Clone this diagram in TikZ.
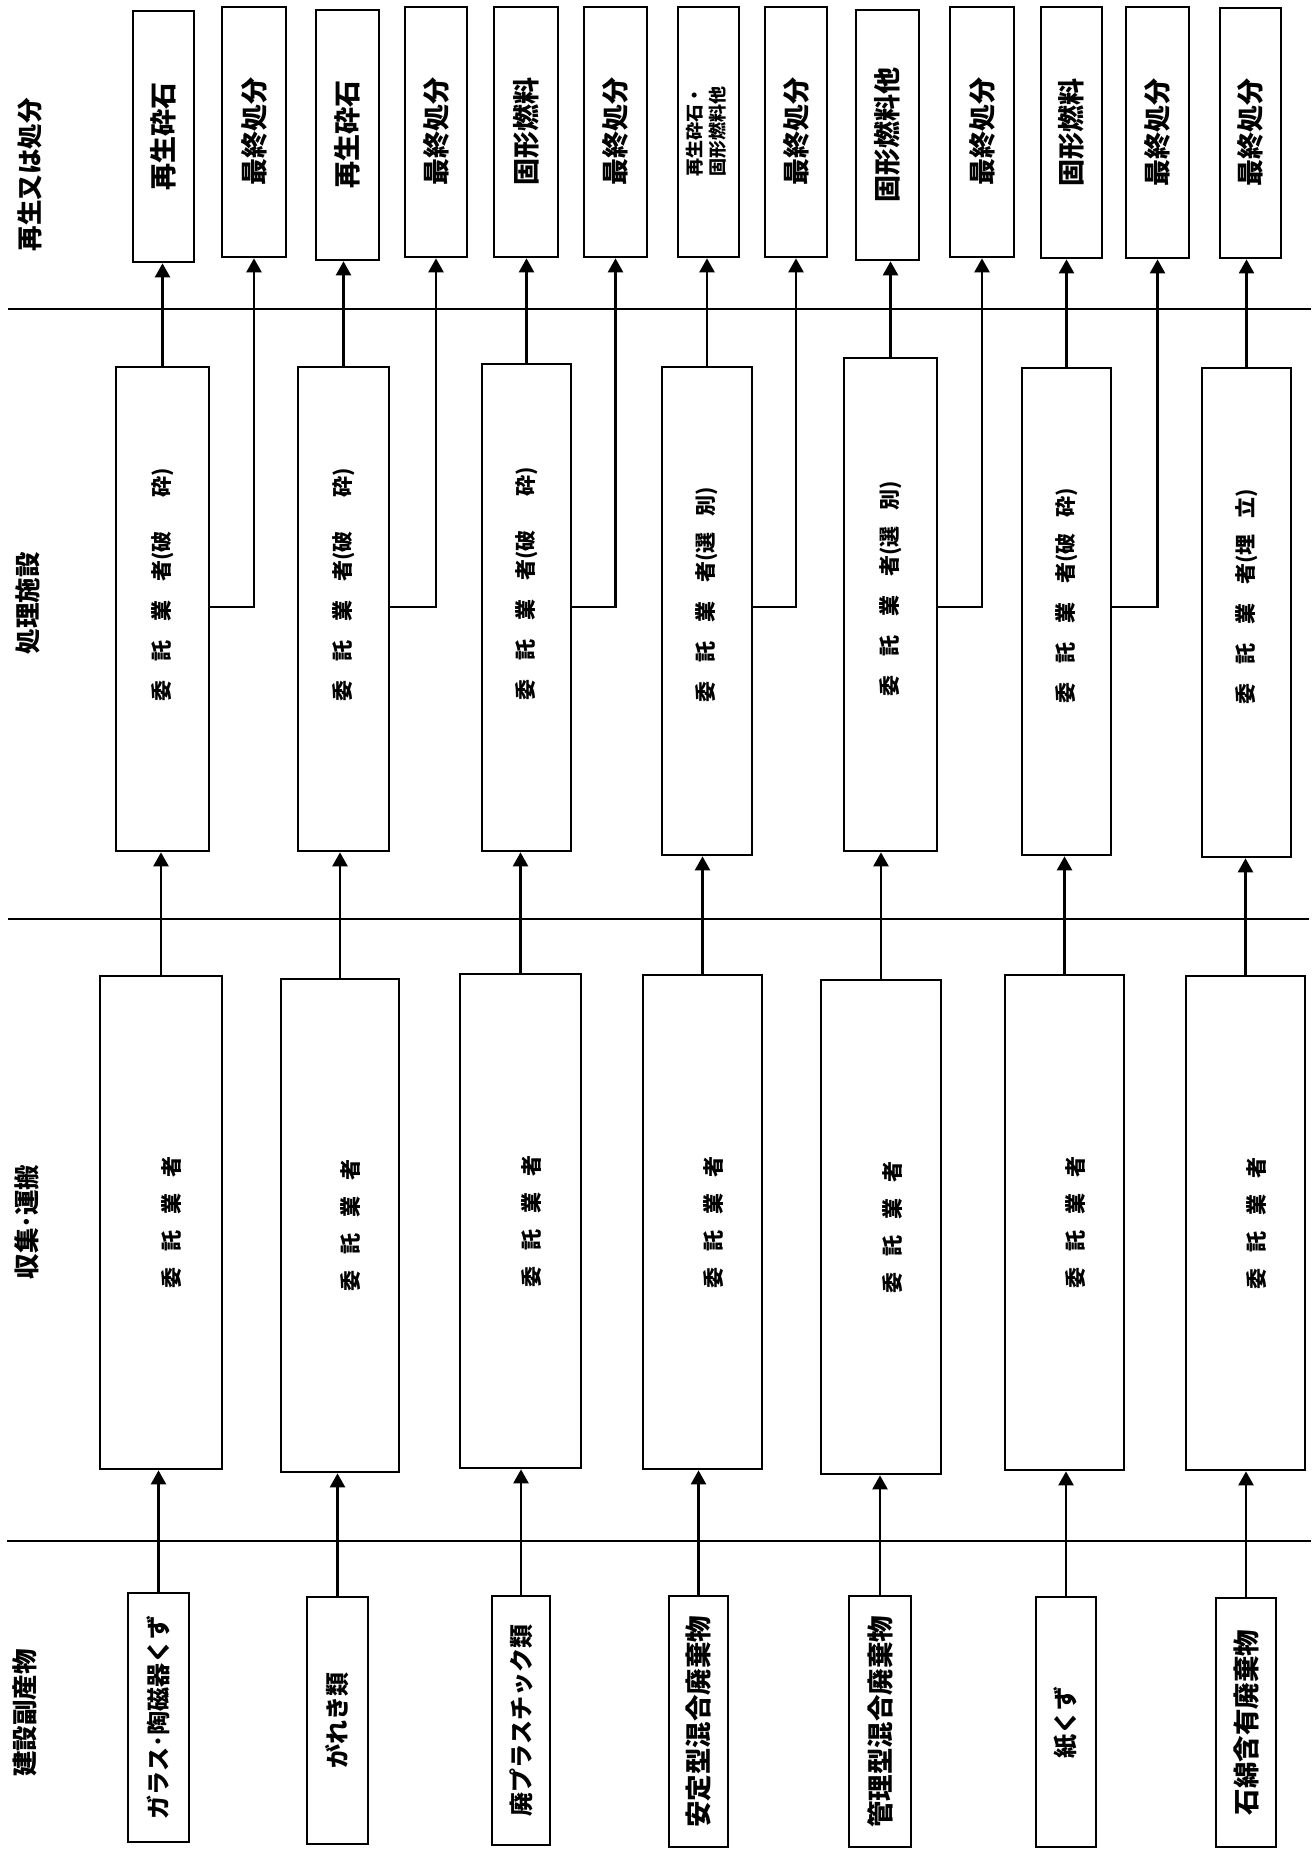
\documentclass[tikz,border=0pt]{standalone}
\usepackage{graphicx}
\usepackage{fontspec}
\setmainfont{Noto Sans CJK JP}
\usetikzlibrary{arrows.meta}
\newcommand\wbox[7]{%
  \node[bx,#1,minimum width={(#5-#3)*1pt},minimum height={(#6-#4)*1pt}] (#2) at ({(#3+#5)/2},{(#4+#6)/2}) {\rotatebox{90}{#7}};}
\newcommand\gp{\hspace{19pt}}
\newcommand\gc{\hspace{16pt}}
\newcommand\procA[1]{\hspace*{48pt}委\gp 託\gp 業\gp 者(#1)}
\newcommand\procB[1]{\hspace*{32pt}委\gp 託\gp 業\gp 者(#1)}
\newcommand\colltxt{\rule{0pt}{40pt}委\gc 託\gc 業\gc 者}
\begin{document}
\begin{tikzpicture}[x=1pt,y=-1pt,
  bx/.style={draw,line width=2.7pt,inner sep=0pt,fill=white},
  tb/.style={font=\fontsize{27}{32}\selectfont\bfseries},
  tbs/.style={font=\fontsize{18}{23}\selectfont\bfseries},
  pr/.style={font=\fontsize{21}{25}\selectfont\bfseries},
  cl/.style={font=\fontsize{21}{25}\selectfont\bfseries},
  srs/.style={font=\fontsize{24}{28}\selectfont\bfseries},
  srl/.style={font=\fontsize{26.5}{30}\selectfont\bfseries},
  lab/.style={inner sep=0pt,font=\fontsize{25.5}{30}\selectfont\bfseries},
  sep/.style={line width=2.5pt},
  arr/.style={line width=2.5pt,-{Triangle[length=14pt,width=15pt]}},
  ln/.style={line width=2.5pt}]
\useasboundingbox (0,0) rectangle (1311,1851);
\fill[white] (0,0) rectangle (1311,1851);

% separator lines
\draw[sep] (8,309) -- (1311,309);
\draw[sep] (8,919) -- (1309,919);
\draw[sep] (7,1541) -- (1311,1541);
\coordinate (by) at (0,607);

% column labels
\node[lab] (h1) at (30,175) {\rotatebox{90}{再生又は処分}};
\node[lab] (h2) at (28,603) {\rotatebox{90}{処理施設}};
\node[lab] (h3) at (27,1222) {\rotatebox{90}{収集･運搬}};
\node[lab] (h4) at (25,1713) {\rotatebox{90}{建設副産物}};

% top boxes (recycling / disposal)
\wbox{tb}{A1}{133}{11}{194}{262}{再生砕石}
\wbox{tb}{B1}{222}{7}{286}{257}{最終処分}
\wbox{tb}{A2}{316}{10}{379}{260}{再生砕石}
\wbox{tb}{B2}{405}{7}{467}{257}{最終処分}
\wbox{tb}{A3}{494}{7}{558}{257}{固形燃料}
\wbox{tb}{B3}{584}{7}{647}{257}{最終処分}
\wbox{tbs}{A4}{678}{7}{739}{257}{\begin{tabular}{@{}l@{}}再生砕石・\\固形燃料他\end{tabular}}
\wbox{tb}{B4}{765}{7}{827}{257}{最終処分}
\wbox{tb}{A5}{856}{10}{919}{260}{固形燃料他}
\wbox{tb}{B5}{950}{7}{1014}{257}{最終処分}
\wbox{tb}{A6}{1041}{7}{1102}{258}{固形燃料}
\wbox{tb}{B6}{1126}{7}{1189}{258}{最終処分}
\wbox{tb}{A7}{1220}{8}{1281}{258}{最終処分}

% processing boxes
\wbox{pr}{P1}{116}{367}{209}{851}{\procA{破\hspace{34pt}砕}}
\wbox{pr}{P2}{298}{367}{389}{851}{\procA{破\hspace{34pt}砕}}
\wbox{pr}{P3}{482}{364}{571}{851}{\procA{破\hspace{34pt}砕}}
\wbox{pr}{P4}{662}{367}{752}{855}{\procB{選\gc 別}}
\wbox{pr}{P5}{844}{358}{937}{851}{\procB{選\gc 別}}
\wbox{pr}{P6}{1022}{368}{1111}{855}{\procB{破\gc 砕}}
\wbox{pr}{P7}{1202}{368}{1291}{857}{\procB{埋\gc 立}}

% collection boxes
\wbox{cl}{C1}{100}{976}{222}{1469}{\colltxt}
\wbox{cl}{C2}{281}{979}{399}{1472}{\colltxt}
\wbox{cl}{C3}{460}{974}{581}{1468}{\colltxt}
\wbox{cl}{C4}{643}{975}{762}{1469}{\colltxt}
\wbox{cl}{C5}{821}{980}{941}{1474}{\colltxt}
\wbox{cl}{C6}{1005}{975}{1124}{1470}{\colltxt}
\wbox{cl}{C7}{1186}{976}{1305}{1470}{\colltxt}

% source boxes
\wbox{srs}{S1}{128}{1593}{189}{1842}{ガラス･陶磁器くず}
\wbox{srs}{S2}{307}{1597}{368}{1844}{がれき類}
\wbox{srs}{S3}{492}{1596}{550}{1845}{廃プラスチック類}
\wbox{srl}{S4}{669}{1596}{728}{1847}{安定型混合廃棄物}
\wbox{srl}{S5}{849}{1596}{911}{1847}{管理型混合廃棄物}
\wbox{srs}{S6}{1036}{1597}{1096}{1847}{紙くず}
\wbox{srl}{S7}{1216}{1598}{1276}{1847}{石綿含有廃棄物}

% connectors
\foreach \i in {1,...,7}{
  \draw[arr] (S\i.north) -- (S\i.north |- C\i.south);
  \draw[arr] (C\i.north) -- (C\i.north |- P\i.south);
  \draw[arr] (P\i.north) -- (P\i.north |- A\i.south);
}
\foreach \i in {1,...,6}{
  \draw[arr] (P\i.east |- by) -| (B\i.south);
}
\end{tikzpicture}
\end{document}
